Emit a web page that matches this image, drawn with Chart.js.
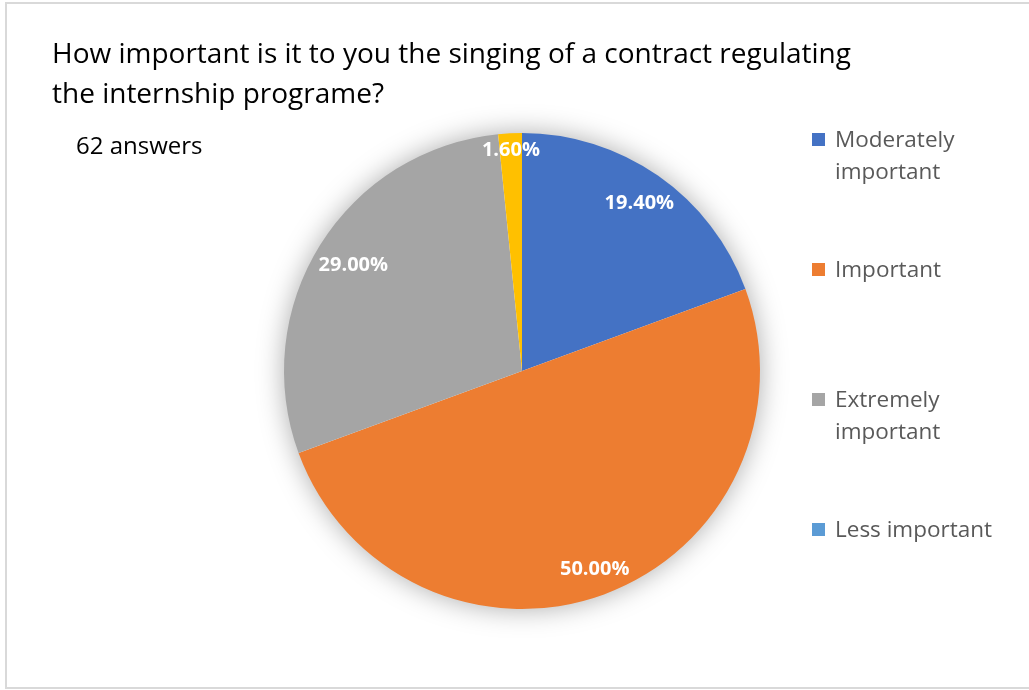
<!DOCTYPE html>
<html>
<head>
<meta charset="utf-8">
<script src="https://cdn.jsdelivr.net/npm/chart.js@4/dist/chart.umd.min.js"></script>
<style>
  html, body { margin: 0; padding: 0; background: #ffffff; }
  #wrap { position: relative; width: 1029px; height: 690px; }
</style>
</head>
<body>
<div id="wrap"><canvas id="chart" width="1029" height="690"></canvas></div>
<script>
// Survey answers, share of respondents in percent
const titleLines = ['How important is it to you the singing of a contract regulating', 'the internship programe?'];
const subtitle = '62 answers';
const categories = ['Moderately important', 'Important', 'Extremely important', '', 'Less important'];
const shares = [19.4, 50.0, 29.0, 1.6, 0];
const sliceColors = ['#4472C4', '#ED7D31', '#A5A5A5', '#FFC000', '#5B9BD5'];

const FONT = '"Open Sans", "Liberation Sans", sans-serif';

// Soft shadow beneath the whole pie, drawn once before the slices
const pieShadow = {
  id: 'pieShadow',
  beforeDatasetsDraw(chart) {
    const arc = chart.getDatasetMeta(0).data[0];
    if (!arc) return;
    const ctx = chart.ctx;
    ctx.save();
    ctx.shadowColor = 'rgba(0,0,0,0.35)';
    ctx.shadowBlur = 28;
    ctx.fillStyle = '#ffffff';
    ctx.beginPath();
    ctx.arc(arc.x, arc.y, arc.outerRadius - 1, 0, Math.PI * 2);
    ctx.fill();
    ctx.restore();
  }
};

// Percentage labels placed inside the outer end of each slice
const sliceLabels = {
  id: 'sliceLabels',
  afterDatasetsDraw(chart) {
    const ctx = chart.ctx;
    const meta = chart.getDatasetMeta(0);
    ctx.save();
    ctx.font = 'bold 20px ' + FONT;
    ctx.fillStyle = '#ffffff';
    ctx.textAlign = 'center';
    ctx.textBaseline = 'middle';
    meta.data.forEach((arc, i) => {
      const v = shares[i];
      if (!v) return;
      const text = v.toFixed(2) + '%';
      const mid = (arc.startAngle + arc.endAngle) / 2;
      const dx = Math.cos(mid), dy = Math.sin(mid);
      const w = ctx.measureText(text).width, h = 18;
      const limit = arc.outerRadius - 4;
      let r = limit;
      while (r > 0) {
        const cx = r * Math.abs(dx) + w / 2, cy = r * Math.abs(dy) + h / 2;
        if (Math.hypot(cx, cy) <= limit) break;
        r -= 1;
      }
      ctx.fillText(text, arc.x + r * dx, arc.y + r * dy);
    });
    ctx.restore();
  }
};

// Frame, title, answer count and the legend on the right
const decorations = {
  id: 'decorations',
  beforeDraw(chart) {
    const ctx = chart.ctx;
    ctx.save();
    ctx.strokeStyle = '#d9d9d9';
    ctx.lineWidth = 2;
    ctx.beginPath();
    ctx.moveTo(1030, 3);
    ctx.lineTo(6, 3);
    ctx.lineTo(6, 688);
    ctx.lineTo(1030, 688);
    ctx.stroke();
    ctx.restore();
  },
  afterDraw(chart) {
    const ctx = chart.ctx;
    ctx.save();
    ctx.textBaseline = 'middle';
    ctx.textAlign = 'left';
    ctx.fillStyle = '#000000';
    // title sized so the first line spans the heading width
    let size = 26;
    ctx.font = size + 'px ' + FONT;
    size = size * 798 / ctx.measureText(titleLines[0]).width;
    ctx.font = size.toFixed(1) + 'px ' + FONT;
    titleLines.forEach((line, i) => ctx.fillText(line, 52, 55 + i * 40));
    ctx.font = '24px ' + FONT;
    ctx.fillText(subtitle, 76, 147);

    ctx.font = '22.5px ' + FONT;
    const x0 = 812, textX = 835, maxW = 178, lineH = 32;
    let y = 140;
    categories.forEach((name, i) => {
      if (!name) return;
      ctx.fillStyle = sliceColors[i];
      ctx.fillRect(x0, y - 7, 13, 13);
      ctx.fillStyle = '#595959';
      const words = name.split(' ');
      const lines = [];
      let cur = '';
      words.forEach(wd => {
        const t = cur ? cur + ' ' + wd : wd;
        if (ctx.measureText(t).width > maxW && cur) { lines.push(cur); cur = wd; }
        else cur = t;
      });
      lines.push(cur);
      lines.forEach((ln, k) => ctx.fillText(ln, textX, y + 1 + k * lineH));
      y += 130;
    });
    ctx.restore();
  }
};

new Chart(document.getElementById('chart'), {
  type: 'pie',
  data: {
    labels: categories,
    datasets: [{
      data: shares,
      backgroundColor: sliceColors,
      borderWidth: 0
    }]
  },
  options: {
    responsive: false,
    animation: false,
    layout: { padding: { left: 284, right: 269, top: 133, bottom: 81 } },
    plugins: {
      legend: { display: false },
      tooltip: { enabled: false },
      title: { display: false }
    }
  },
  plugins: [decorations, pieShadow, sliceLabels]
});
</script>
</body>
</html>
